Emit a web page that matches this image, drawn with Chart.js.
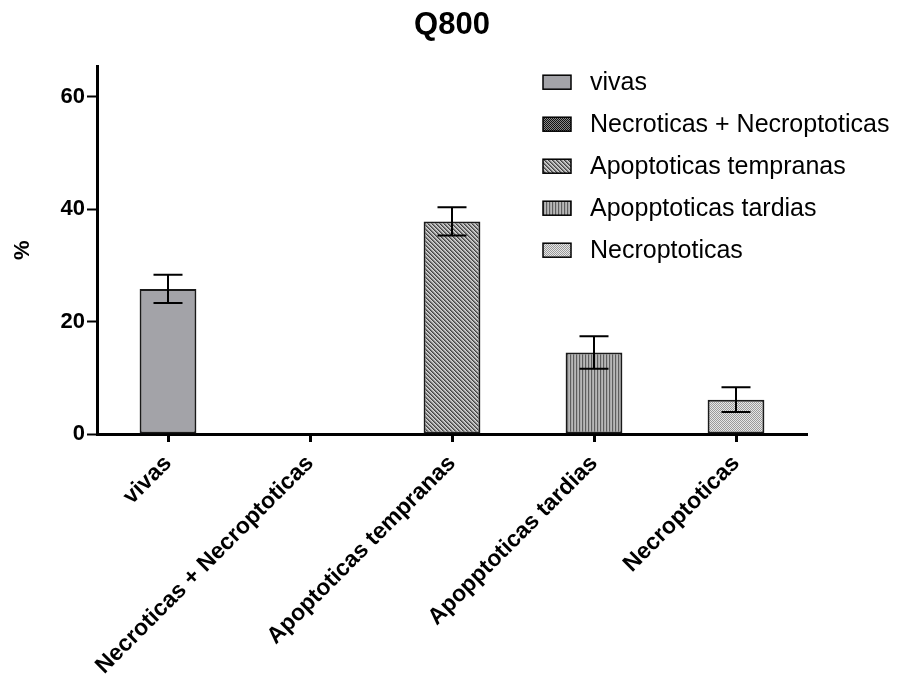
<!DOCTYPE html>
<html>
<head>
<meta charset="utf-8">
<script src="https://cdn.jsdelivr.net/npm/chart.js@4.4.1/dist/chart.umd.min.js"></script>
<style>
  html, body { margin: 0; padding: 0; background: #ffffff; }
  #wrap { width: 898px; height: 675px; }
</style>
</head>
<body>
<div id="wrap"><canvas id="chart" width="898" height="675"></canvas></div>
<script>
// Cell death fractions for Q800 (mean ± error, %)
const categories = ['vivas', 'Necroticas + Necroptoticas', 'Apoptoticas tempranas', 'Apopptoticas tardias', 'Necroptoticas'];
const means = [25.8, 0, 37.8, 14.5, 6.1];
const errors = [2.5, 0, 2.5, 2.9, 2.2];
const yTicks = [0, 20, 40, 60];
const fills = ['solid', 'crosshatch', 'diagonal', 'vertical', 'checker'];

const FONT = '"Liberation Sans", Arial, Helvetica, sans-serif';

// Small repeating tiles for the bar fills
function tile(w, h, painter) {
  const c = document.createElement('canvas');
  c.width = w; c.height = h;
  const g = c.getContext('2d');
  painter(g, w, h);
  return g.createPattern(c, 'repeat');
}
function px(g, x, y, col) { g.fillStyle = col; g.fillRect(x, y, 1, 1); }

function makeFill(kind) {
  switch (kind) {
    case 'solid':
      return '#a3a3a8';
    case 'crosshatch':
      return tile(2, 2, (g) => {
        px(g, 0, 0, '#111111'); px(g, 1, 1, '#111111');
        px(g, 1, 0, '#8a8a8a'); px(g, 0, 1, '#8a8a8a');
      });
    case 'diagonal':
      return tile(4, 4, (g) => {
        for (let y = 0; y < 4; y++) for (let x = 0; x < 4; x++) {
          const k = ((x - y) % 4 + 4) % 4;
          px(g, x, y, k === 0 ? '#444444' : (k === 1 ? '#7a7a7a' : (k === 2 ? '#b4b4b4' : '#d4d4d4')));
        }
      });
    case 'vertical':
      return tile(3, 1, (g) => {
        px(g, 0, 0, '#5e5e5e'); px(g, 1, 0, '#a8a8a8'); px(g, 2, 0, '#b8b8b8');
      });
    case 'checker':
      return tile(2, 2, (g) => {
        px(g, 0, 0, '#9a9a9a'); px(g, 1, 1, '#9a9a9a');
        px(g, 1, 0, '#e6e6e6'); px(g, 0, 1, '#e6e6e6');
      });
  }
}
const barFills = fills.map(makeFill);

// Error bars with caps, drawn from the same scales as the bars
const errorBars = {
  id: 'errorBars',
  afterDatasetsDraw(chart) {
    const { ctx, scales: { x, y } } = chart;
    const half = 14.5;
    ctx.save();
    ctx.strokeStyle = '#000000';
    ctx.lineWidth = 2;
    means.forEach((m, i) => {
      const e = errors[i];
      if (!e) return;
      const cx = Math.round(x.getPixelForValue(i));
      const yTop = y.getPixelForValue(m + e);
      const yBot = y.getPixelForValue(m - e);
      ctx.beginPath();
      ctx.moveTo(cx, yTop); ctx.lineTo(cx, yBot);
      ctx.moveTo(cx - half, yTop); ctx.lineTo(cx + half, yTop);
      ctx.moveTo(cx - half, yBot); ctx.lineTo(cx + half, yBot);
      ctx.stroke();
    });
    ctx.restore();
  }
};

// Legend listing each category with its fill, inside the plot at top right
const insideLegend = {
  id: 'insideLegend',
  afterDraw(chart) {
    const { ctx, chartArea } = chart;
    const x0 = chartArea.left + 446;
    const y0 = chartArea.top + 16;
    const step = 42;
    const bw = 28, bh = 14;
    ctx.save();
    ctx.font = '25px ' + FONT;
    ctx.textBaseline = 'middle';
    ctx.textAlign = 'left';
    categories.forEach((label, i) => {
      const cy = y0 + i * step;
      ctx.fillStyle = barFills[i];
      ctx.fillRect(x0, cy - bh / 2, bw, bh);
      ctx.strokeStyle = '#000000';
      ctx.lineWidth = 1.5;
      ctx.strokeRect(x0, cy - bh / 2, bw, bh);
      ctx.fillStyle = '#000000';
      ctx.fillText(label, x0 + 47, cy + 1);
    });
    ctx.restore();
  }
};

new Chart(document.getElementById('chart'), {
  type: 'bar',
  data: {
    labels: categories,
    datasets: [{
      data: means,
      backgroundColor: barFills,
      borderColor: '#1a1a1a',
      borderWidth: 2,
      borderSkipped: false,
      categoryPercentage: 1,
      barPercentage: 0.4
    }]
  },
  options: {
    responsive: false,
    animation: false,
    devicePixelRatio: 1,
    layout: { padding: { left: 0, right: 91, top: 0, bottom: 0 } },
    plugins: {
      legend: { display: false },
      tooltip: { enabled: false },
      title: {
        display: true,
        fullSize: false,
        text: 'Q800',
        color: '#000000',
        font: { family: FONT, size: 31, weight: 'bold', lineHeight: 1.2 },
        padding: { top: 7, bottom: 22 }
      }
    },
    scales: {
      x: {
        offset: true,
        afterFit(scale) { scale.height = 241; },
        grid: {
          offset: false,
          drawOnChartArea: false,
          drawTicks: true,
          tickLength: 8,
          tickWidth: 3,
          color: '#000000'
        },
        border: { display: true, color: '#000000', width: 3 },
        ticks: {
          autoSkip: false,
          minRotation: 45,
          maxRotation: 45,
          padding: 8,
          color: '#000000',
          font: { family: FONT, size: 23, weight: 'bold' }
        }
      },
      y: {
        min: 0,
        max: 65.4,
        afterFit(scale) { scale.width = 97; },
        afterBuildTicks(scale) { scale.ticks = yTicks.map(v => ({ value: v })); },
        grid: {
          drawOnChartArea: false,
          drawTicks: true,
          tickLength: 10,
          tickWidth: 2,
          color: '#000000'
        },
        border: { display: true, color: '#000000', width: 3 },
        ticks: {
          padding: 2,
          color: '#000000',
          font: { family: FONT, size: 22, weight: 'bold' }
        },
        title: {
          display: true,
          text: '%',
          color: '#000000',
          font: { family: FONT, size: 22, weight: 'bold' },
          padding: { top: 10, bottom: 0 }
        }
      }
    }
  },
  plugins: [errorBars, insideLegend]
});
</script>
</body>
</html>
